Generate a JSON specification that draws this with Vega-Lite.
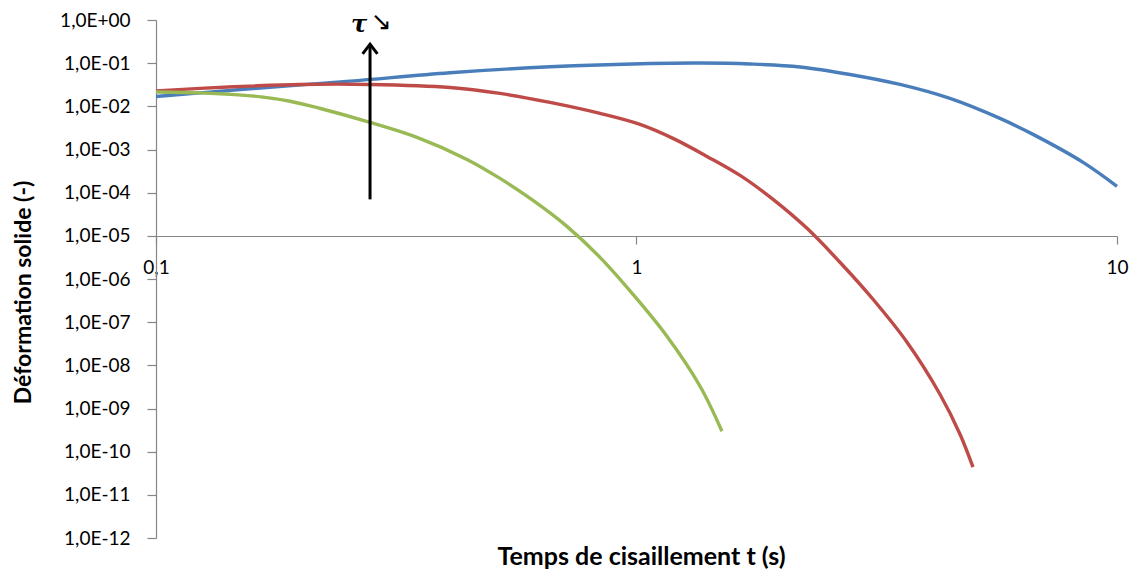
{
  "$schema": "https://vega.github.io/schema/vega-lite/v6.json",
  "width": 961,
  "height": 518,
  "autosize": {"type": "none"},
  "padding": {"left": 156, "top": 20, "right": 21, "bottom": 34},
  "background": "white",
  "config": {
    "view": {"stroke": null},
    "font": "Lato",
    "axis": {"grid": false, "domainColor": "#868686", "tickColor": "#868686", "labelColor": "#000000", "titleColor": "#000000", "labelFont": "Lato", "titleFont": "Lato", "labelFontSize": 19, "titleFontSize": 23, "titleFontWeight": "bold", "domainWidth": 1.2, "tickWidth": 1.2}
  },
  "layer": [
    {
      "data": {"values": [
        {"series": "a", "t": 0.1, "eps": 0.0169},
        {"series": "a", "t": 0.1569, "eps": 0.02555},
        {"series": "a", "t": 0.2533, "eps": 0.03831},
        {"series": "a", "t": 0.4091, "eps": 0.0599},
        {"series": "a", "t": 0.6607, "eps": 0.0825},
        {"series": "a", "t": 1.067, "eps": 0.0985},
        {"series": "a", "t": 1.356, "eps": 0.1011},
        {"series": "a", "t": 1.723, "eps": 0.0958},
        {"series": "a", "t": 2.189, "eps": 0.0817},
        {"series": "a", "t": 2.782, "eps": 0.0547},
        {"series": "a", "t": 3.535, "eps": 0.0321},
        {"series": "a", "t": 4.491, "eps": 0.01524},
        {"series": "a", "t": 5.707, "eps": 0.00525},
        {"series": "a", "t": 6.688, "eps": 0.00224},
        {"series": "a", "t": 8.501, "eps": 0.000503},
        {"series": "a", "t": 10, "eps": 0.000140},
        {"series": "b", "t": 0.1, "eps": 0.0227},
        {"series": "b", "t": 0.1235, "eps": 0.0260},
        {"series": "b", "t": 0.1569, "eps": 0.0294},
        {"series": "b", "t": 0.1994, "eps": 0.0321},
        {"series": "b", "t": 0.2789, "eps": 0.0321},
        {"series": "b", "t": 0.4091, "eps": 0.0274},
        {"series": "b", "t": 0.5199, "eps": 0.0199},
        {"series": "b", "t": 0.6607, "eps": 0.0123},
        {"series": "b", "t": 0.8395, "eps": 0.00685},
        {"series": "b", "t": 1.017, "eps": 0.00381},
        {"series": "b", "t": 1.191, "eps": 0.00181},
        {"series": "b", "t": 1.402, "eps": 0.000692},
        {"series": "b", "t": 1.643, "eps": 0.000251},
        {"series": "b", "t": 1.924, "eps": 0.0000700},
        {"series": "b", "t": 2.264, "eps": 0.0000149},
        {"series": "b", "t": 2.651, "eps": 0.00000244},
        {"series": "b", "t": 3.106, "eps": 3.39e-7},
        {"series": "b", "t": 3.656, "eps": 3.43e-8},
        {"series": "b", "t": 4.281, "eps": 2.14e-9},
        {"series": "b", "t": 4.713, "eps": 2.54e-10},
        {"series": "b", "t": 5.015, "eps": 4.38e-11},
        {"series": "c", "t": 0.1, "eps": 0.0215},
        {"series": "c", "t": 0.1235, "eps": 0.0205},
        {"series": "c", "t": 0.1426, "eps": 0.0190},
        {"series": "c", "t": 0.1655, "eps": 0.0166},
        {"series": "c", "t": 0.1901, "eps": 0.0131},
        {"series": "c", "t": 0.2189, "eps": 0.00902},
        {"series": "c", "t": 0.2789, "eps": 0.00424},
        {"series": "c", "t": 0.3493, "eps": 0.00191},
        {"series": "c", "t": 0.4438, "eps": 0.00059},
        {"series": "c", "t": 0.5199, "eps": 0.000214},
        {"series": "c", "t": 0.6090, "eps": 0.0000664},
        {"series": "c", "t": 0.7166, "eps": 0.0000166},
        {"series": "c", "t": 0.8395, "eps": 0.00000318},
        {"series": "c", "t": 0.9833, "eps": 4.42e-7},
        {"series": "c", "t": 1.157, "eps": 4.72e-8},
        {"series": "c", "t": 1.356, "eps": 3.28e-9},
        {"series": "c", "t": 1.506, "eps": 2.98e-10}
      ]},
      "mark": {"type": "line", "interpolate": "catmull-rom", "strokeCap": "butt"},
      "encoding": {
        "x": {"field": "t", "type": "quantitative",
          "scale": {"type": "log", "domain": [0.1, 10], "nice": false},
          "axis": {"values": [0.1, 1, 10], "offset": -302, "tickSize": 8, "labelPadding": 14,
            "labelExpr": "datum.value < 0.5 ? '0,1' : (datum.value < 5 ? '1' : '10')",
            "labelFlush": false, "labelOverlap": false,
            "title": "Temps de cisaillement t (s)", "titleFontSize": 25, "titleX": 485, "titleY": 320, "titleBaseline": "middle", "titleAlign": "center", "titleAnchor": null}},
        "y": {"field": "eps", "type": "quantitative",
          "scale": {"type": "log", "domain": [1e-12, 1], "nice": false},
          "axis": {"values": [1e-12, 1e-11, 1e-10, 1e-9, 1e-8, 1e-7, 1e-6, 1e-5, 1e-4, 1e-3, 1e-2, 1e-1, 1],
            "tickSize": 9, "labelPadding": 17, "labelBaseline": "middle",
            "labelExpr": "'1,0E' + (round(log(datum.value)/LN10) < 0 ? '-' : '+') + (abs(round(log(datum.value)/LN10)) < 10 ? '0' : '') + abs(round(log(datum.value)/LN10))",
            "labelFlush": false, "labelOverlap": false,
            "title": "Déformation solide (-)", "titleAngle": 270, "titleX": -133, "titleY": 272, "titleBaseline": "middle", "titleAlign": "center", "titleAnchor": null}},
        "color": {"field": "series", "type": "nominal", "scale": {"domain": ["a", "b", "c"], "range": ["#4a7ebb", "#be4b48", "#98b954"]}, "legend": null},
        "strokeWidth": {"field": "series", "type": "nominal", "scale": {"domain": ["a", "b", "c"], "range": [3.4, 3.4, 2.5]}, "legend": null}
      }
    },
    {
      "data": {"values": [{"t": 0.2789, "lo": 7.0e-5, "hi": 0.265}]},
      "mark": {"type": "rule", "color": "#000000", "strokeWidth": 3},
      "encoding": {
        "x": {"field": "t", "type": "quantitative"},
        "y": {"field": "lo", "type": "quantitative"},
        "y2": {"field": "hi"}
      }
    },
    {
      "data": {"values": [{"t": 0.2789, "tip": 0.275}]},
      "mark": {"type": "point", "shape": "M-1,1.3L0,0L1,1.3", "size": 220, "filled": false, "stroke": "#000000", "strokeWidth": 3, "opacity": 1},
      "encoding": {
        "x": {"field": "t", "type": "quantitative"},
        "y": {"field": "tip", "type": "quantitative"}
      }
    },
    {
      "data": {"values": [{"t": 0.2646, "pos": 0.54, "label": "τ"}]},
      "mark": {"type": "text", "font": "DejaVu Serif", "fontSize": 24, "fontWeight": "bold", "fontStyle": "italic", "align": "center", "baseline": "alphabetic", "color": "#000000"},
      "encoding": {
        "x": {"field": "t", "type": "quantitative"},
        "y": {"field": "pos", "type": "quantitative"},
        "text": {"field": "label"}
      }
    },
    {
      "data": {"values": [{"t": 0.2939, "pos": 0.6, "label": "↘"}]},
      "mark": {"type": "text", "font": "DejaVu Sans", "fontSize": 25, "align": "center", "baseline": "alphabetic", "color": "#000000"},
      "encoding": {
        "x": {"field": "t", "type": "quantitative"},
        "y": {"field": "pos", "type": "quantitative"},
        "text": {"field": "label"}
      }
    }
  ]
}
